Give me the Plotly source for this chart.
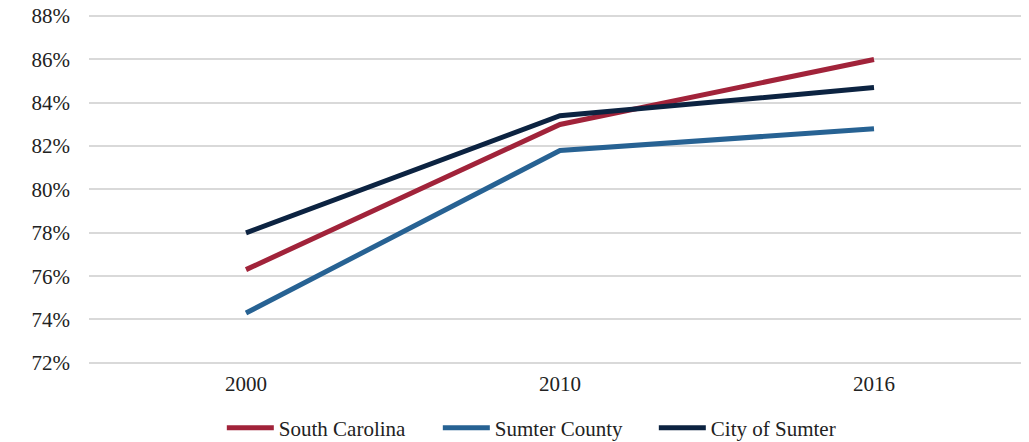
import plotly.graph_objects as go

years = ["2000", "2010", "2016"]
south_carolina = [76.3, 83.0, 86.0]
sumter_county = [74.3, 81.8, 82.8]
city_of_sumter = [78.0, 83.4, 84.7]
y_ticks = [72, 74, 76, 78, 80, 82, 84, 86, 88]

font_family = "Liberation Serif, Times New Roman, serif"

fig = go.Figure()
series = [
    ("South Carolina", south_carolina, "#A1233A"),
    ("Sumter County", sumter_county, "#276293"),
    ("City of Sumter", city_of_sumter, "#0C2341"),
]
for name, vals, color in series:
    fig.add_trace(go.Scatter(
        x=years, y=vals, name=name, mode="lines",
        line=dict(color=color, width=5),
    ))

fig.update_layout(
    width=1029, height=442,
    margin=dict(l=81, r=6, t=7, b=85, autoexpand=False),
    paper_bgcolor="white", plot_bgcolor="white",
    font=dict(family=font_family, size=21, color="#222222"),
    showlegend=True,
    legend=dict(orientation="h", x=0.141, xanchor="left", y=-0.18, yanchor="middle",
                font=dict(size=21), entrywidth=154, entrywidthmode="pixels",
                itemwidth=47, tracegroupgap=0),
    xaxis=dict(type="category", range=[-0.5, 2.5], showgrid=False, zeroline=False,
               showline=False, ticks="", tickfont=dict(size=21), automargin=False,
               ticklabelstandoff=4, ticklabeloverflow="allow"),
    yaxis=dict(range=[71.9, 88.05], tickvals=y_ticks,
               ticktext=[f"{v}%" for v in y_ticks],
               showgrid=True, gridcolor="#D9D9D9", gridwidth=2,
               zeroline=False, showline=False, ticks="", ticklabelstandoff=18,
               tickfont=dict(size=21), automargin=False, ticklabeloverflow="allow"),
)

fig.write_html("out.html")
